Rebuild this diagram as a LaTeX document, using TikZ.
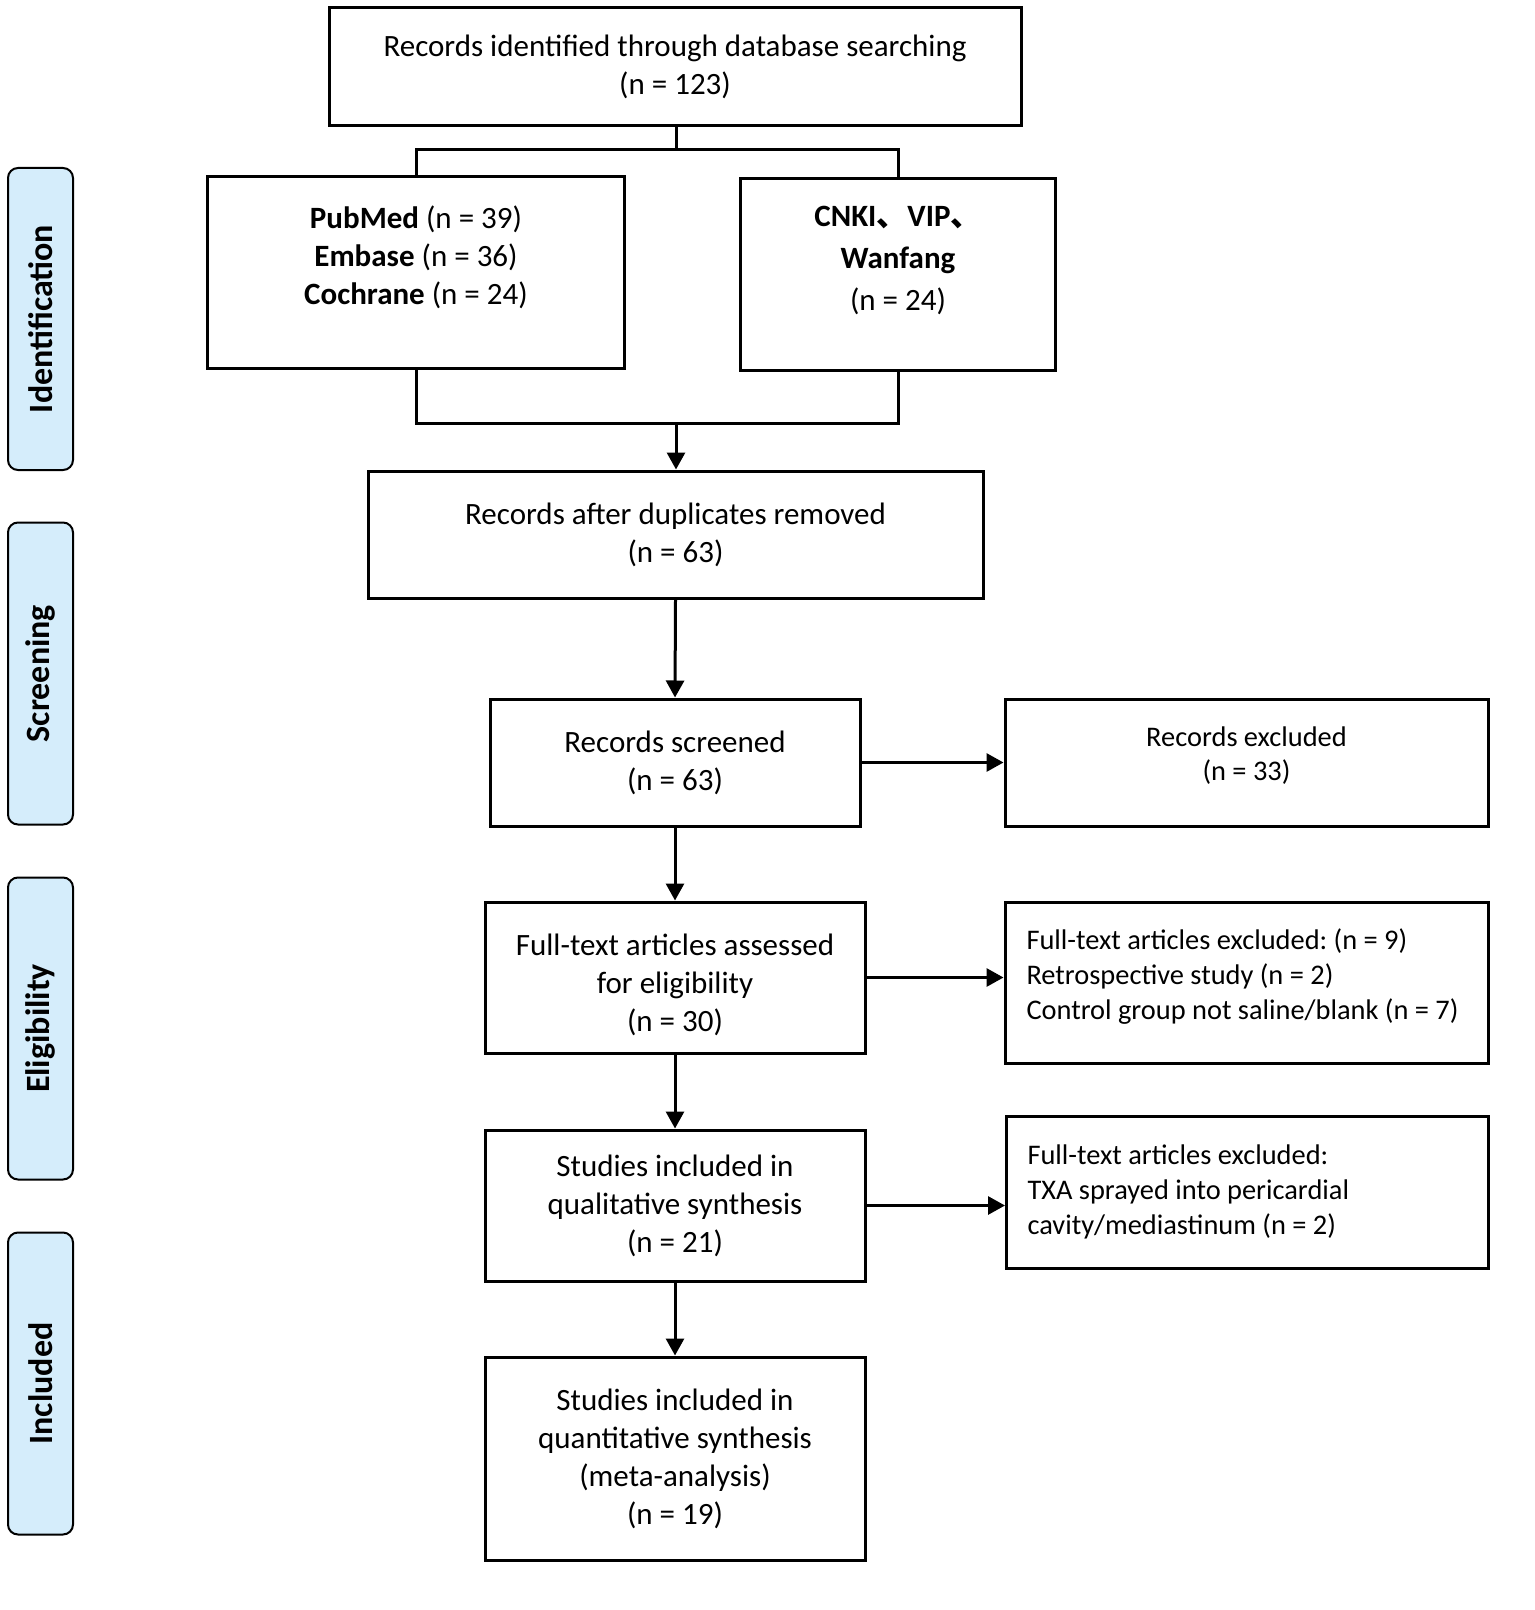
\documentclass[tikz,border=0pt]{standalone}
\usepackage{fontspec}
\setmainfont{Carlito}
\newfontfamily\cjk{Noto Sans CJK SC}
\usetikzlibrary{arrows.meta}
\definecolor{sidefill}{HTML}{D5EDFB}
\begin{document}
\begin{tikzpicture}[x=0.5pt,y=-0.5pt,
  box/.style={draw,line width=1.5pt,align=center,inner sep=0pt,
    font=\fontsize{15.5}{19}\selectfont},
  exbox/.style={draw,line width=1.5pt,align=flush left,inner xsep=10.5pt,inner ysep=0pt,
    text width=220pt,font=\fontsize{14.2}{17.3}\selectfont,
    execute at begin node={\frenchspacing\spaceskip=0pt\xspaceskip=0pt\relax}},
  side/.style={draw,line width=1pt,fill=sidefill,rounded corners=5pt,rotate=90,
    minimum width=151pt,minimum height=32.5pt,inner sep=0pt,
    font=\bfseries\fontsize{17}{20}\selectfont},
  conn/.style={line width=1.5pt},
  arr/.style={line width=1.5pt,-{Triangle[length=8.5pt,width=9pt]}}]
\useasboundingbox (0,0) rectangle (1535,1610);
% side labels
\node[side] (sid) at (40.5,319) {Identification};
\node[side] (sscr) at (40.5,673.5) {Screening};
\node[side] (selig) at (40.5,1028.5) {Eligibility};
\node[side] (sinc) at (40.5,1383.5) {Included};
% boxes
\node[box,minimum width=346pt,minimum height=59pt] (top) at (675,67)
  {Records identified through database searching\\(n = 123)};
\node[box,minimum width=208.5pt,minimum height=96pt] (pub) at (416,273)
  {\textbf{PubMed} (n = 39)\\\textbf{Embase} (n = 36)\\\textbf{Cochrane} (n = 24)\\[-1pt]};
\node[box,minimum width=157.5pt,minimum height=96pt,font=\fontsize{15.5}{21}\selectfont] (cnki) at (898,275)
  {\textbf{CNKI{\cjk 、}VIP{\cjk 、}}\\\textbf{Wanfang}\\(n = 24)\\[-4pt]};
\node[box,minimum width=307.5pt,minimum height=63.5pt] (dup) at (675.5,534.5)
  {Records after duplicates removed\\(n = 63)};
\node[box,minimum width=185pt,minimum height=63.5pt] (scr) at (675,762.5)
  {Records screened\\(n = 63)};
\node[box,minimum width=241.5pt,minimum height=63.5pt,font=\fontsize{14.2}{17}\selectfont] (rexc) at (1246.5,762.5)
  {Records excluded\\(n = 33)\\[-8pt]};
\node[box,minimum width=190pt,minimum height=75.5pt] (full) at (675,977.5)
  {Full-text articles assessed\\for eligibility\\(n = 30)\\[-24pt]};
\node[exbox,minimum width=241.5pt,minimum height=80.5pt] (ex1) at (1246.5,982.5)
  {Full-text articles excluded: (n = 9)\\Retrospective study (n = 2)\\Control group not saline/blank (n = 7)\par\kern6pt};
\node[box,minimum width=190pt,minimum height=75.5pt] (qual) at (675,1205.5)
  {Studies included in\\qualitative synthesis\\(n = 21)};
\node[exbox,minimum width=240.5pt,minimum height=76pt] (ex2) at (1247.5,1192)
  {Full-text articles excluded:\\TXA sprayed into pericardial\\cavity/mediastinum (n = 2)};
\node[box,minimum width=190pt,minimum height=101.5pt] (quant) at (675,1458.5)
  {Studies included in\\quantitative synthesis\\(meta-analysis)\\(n = 19)};
% connectors
\coordinate (split) at (676,150);
\coordinate (merge) at (676,423);
\draw[conn] (top.south -| split) -- (split);
\draw[conn] (pub.north) |- (split) -| (cnki.north);
\draw[conn] (pub.south) |- (merge) -| (cnki.south);
\draw[arr] (merge) -- (merge |- dup.north);
\draw[arr] (dup.south) -- (scr.north);
\draw[arr] (scr.east) -- (rexc.west);
\draw[arr] (scr.south) -- (full.north);
\draw[arr] (full.east) -- (full.east -| ex1.west);
\draw[arr] (full.south) -- (qual.north);
\draw[arr] (qual.east) -- (qual.east -| ex2.west);
\draw[arr] (qual.south) -- (quant.north);
\end{tikzpicture}
\end{document}
